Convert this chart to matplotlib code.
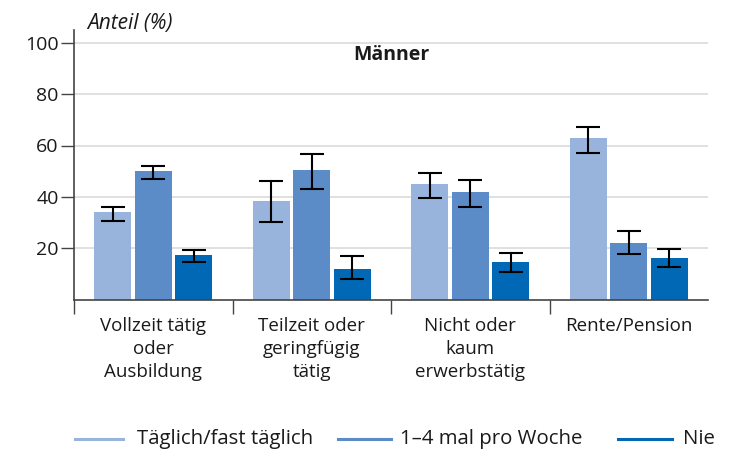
import matplotlib
matplotlib.use("Agg")
import matplotlib.pyplot as plt
from matplotlib.lines import Line2D
import numpy as np

categories = ["Vollzeit tätig\noder\nAusbildung", "Teilzeit oder\ngeringfügig\ntätig",
              "Nicht oder\nkaum\nerwerbstätig", "Rente/Pension"]
series_names = ["Täglich/fast täglich", "1–4 mal pro Woche", "Nie"]
values = [
    [34, 38.5, 45, 63],
    [50, 50.5, 42, 22],
    [17.5, 12, 14.5, 16],
]
err_low = [
    [30.5, 30.2, 39.5, 57],
    [46.8, 43, 36, 17.8],
    [14.8, 8, 10.8, 12.6],
]
err_high = [
    [36, 46, 49.3, 67.2],
    [52, 56.8, 46.5, 26.6],
    [19.4, 16.8, 18.1, 19.5],
]
colors = ["#98b4dc", "#5b8cc8", "#0068b4"]
yticks = [20, 40, 60, 80, 100]

plt.rcParams['font.family'] = ['Open Sans', 'DejaVu Sans']
W, H = 738, 449
fig = plt.figure(figsize=(W / 100, H / 100), dpi=100)
ax = fig.add_axes([74 / W, 1 - 299.5 / H, (708 - 74) / W, (299.5 - 30) / H])

x = np.arange(len(categories))
w = 0.233
step = 0.255
for i in range(3):
    xs = x + (i - 1) * step
    v = np.array(values[i])
    lo = v - np.array(err_low[i])
    hi = np.array(err_high[i]) - v
    ax.bar(xs, v, width=w, color=colors[i], zorder=2)
    ax.errorbar(xs, v, yerr=[lo, hi], fmt='none', ecolor='black',
                elinewidth=1.5, capsize=8.5, capthick=1.5, zorder=3)

ax.set_xlim(-0.5, len(categories) - 0.5)
ax.set_ylim(0, 105)
ax.set_yticks(yticks)
ax.set_yticklabels([str(t) for t in yticks], fontsize=14, color='#1a1a1a')
ax.yaxis.grid(True, color='#dddddd', linewidth=1.3, zorder=0)
ax.set_axisbelow(True)

ax.set_xticks(np.arange(len(categories)) - 0.5)
ax.set_xticklabels([])
ax.tick_params(axis='x', direction='out', length=10, width=1, color='#444444')
ax.tick_params(axis='y', direction='out', length=9.5, width=1, color='#444444', pad=1.5)
for c, lab in zip(x, categories):
    ax.text(c, -7, lab, ha='center', va='top', fontsize=13.5, color='#1a1a1a',
            transform=ax.transData, linespacing=1.35)

for s in ['top', 'right']:
    ax.spines[s].set_visible(False)
for s in ['left', 'bottom']:
    ax.spines[s].set_color('#444444')
    ax.spines[s].set_linewidth(1.2)

ax.text(0.5, 0.907, "Männer", transform=ax.transAxes, ha='center', va='center',
        fontsize=14, fontweight='bold', color='#1a1a1a')
fig.text(87 / W, 1 - 24 / H, "Anteil (%)", ha='left', va='center',
         fontsize=15, fontstyle='italic', color='#1a1a1a')

# legend drawn manually
leg_y = 1 - 439 / H
handle_x = [(75, 123), (338, 391), (618, 672)]
text_x = [137, 400, 683]
for (x0, x1), tx, c, name in zip(handle_x, text_x, colors, series_names):
    fig.add_artist(Line2D([x0 / W, x1 / W], [leg_y, leg_y], color=c,
                          linewidth=2.2, transform=fig.transFigure))
    fig.text(tx / W, leg_y, name, ha='left', va='center', fontsize=14.7,
             color='#1a1a1a')

fig.savefig("out.png", dpi=100)
